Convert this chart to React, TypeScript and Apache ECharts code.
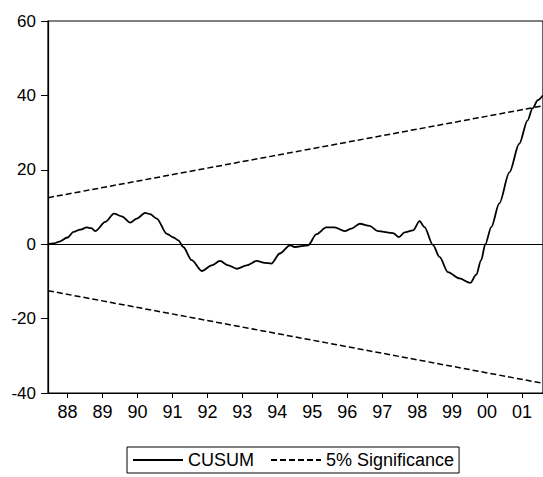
import React, { useEffect, useRef } from "react";
import * as echarts from "echarts";

// Recursive-residual CUSUM statistic, x as fractional year
const cusumYears = [
  1987.44, 1987.6, 1987.74, 1988.0, 1988.17, 1988.36, 1988.55, 1988.68, 1988.79,
  1989.08, 1989.33, 1989.55, 1989.79, 1989.98, 1990.22, 1990.36, 1990.55, 1990.84,
  1991.03, 1991.17, 1991.31, 1991.55, 1991.84, 1992.12, 1992.36, 1992.6, 1992.84,
  1993.12, 1993.41, 1993.64, 1993.83, 1994.07, 1994.36, 1994.5, 1994.88, 1995.12,
  1995.4, 1995.64, 1995.93, 1996.12, 1996.36, 1996.64, 1996.88, 1997.31, 1997.48,
  1997.64, 1997.88, 1998.07, 1998.21, 1998.45, 1998.64, 1998.88, 1999.21, 1999.52,
  1999.69, 1999.83, 1999.95, 2000.12, 2000.35, 2000.64, 2000.92, 2001.16, 2001.3,
  2001.45, 2001.6,
];
const cusumValues = [
  0, 0.2, 0.6, 1.8, 3.3, 3.9, 4.5, 4.3, 3.5,
  6.0, 8.2, 7.5, 5.8, 6.9, 8.4, 8.1, 6.9, 2.8,
  1.8, 1.05, -0.75, -4.3, -7.2, -5.7, -4.5, -5.7, -6.6,
  -5.7, -4.5, -5.0, -5.2, -2.5, -0.3, -0.75, -0.3, 2.7,
  4.5, 4.5, 3.5, 4.2, 5.5, 4.9, 3.5, 3.0, 1.9,
  3.2, 3.7, 6.2, 4.6, -0.2, -3.4, -7.5, -9.2, -10.4,
  -8.2, -4.3, 0, 4.6, 11.0, 19.3, 27.0, 33.3, 36.5,
  38.7, 40.0,
];

// 5% significance bounds (straight lines from first to last recursive residual)
const boundYears = [1987.44, 2001.6];
const upperBound = [12.5, 37.2];
const lowerBound = [-12.5, -37.4];

const yearTicks = [1988, 1989, 1990, 1991, 1992, 1993, 1994, 1995, 1996, 1997, 1998, 1999, 2000, 2001];
const yMin = -40;
const yMax = 60;
const yStep = 20;

const FONT = "'Liberation Sans', Arial, Helvetica, sans-serif";

export default function App() {
  const ref = useRef<HTMLDivElement>(null);

  useEffect(() => {
    if (!ref.current) return;
    const chart = echarts.init(ref.current, undefined, { renderer: "svg" });

    const pair = (xs: number[], ys: number[]) => xs.map((x, i) => [x, ys[i]]);
    const dashStyle = { color: "#000", width: 1.5, type: [6, 3] as number[] };

    chart.setOption({
      animation: false,
      backgroundColor: "#fff",
      grid: {
        left: 48,
        top: 21,
        right: -4,
        bottom: 84,
        show: true,
        borderColor: "#000",
        borderWidth: 1.2,
        backgroundColor: "transparent",
      },
      xAxis: {
        type: "value",
        min: 1987.44,
        max: 2001.6,
        splitLine: { show: false },
        axisLine: { show: true, onZero: false, lineStyle: { color: "#000", width: 1.2 } },
        axisTick: {
          show: true,
          inside: false,
          length: 5,
          customValues: yearTicks,
          lineStyle: { color: "#000", width: 1 },
        },
        axisLabel: {
          customValues: yearTicks,
          margin: 10,
          color: "#000",
          fontSize: 18,
          fontFamily: FONT,
          formatter: (v: number) => String(Math.round(v)).slice(2),
        },
      },
      yAxis: {
        type: "value",
        min: yMin,
        max: yMax,
        interval: yStep,
        splitLine: { show: false },
        axisLine: { show: true, onZero: false, lineStyle: { color: "#000", width: 1.2 } },
        axisTick: { show: true, inside: false, length: 7, lineStyle: { color: "#000", width: 1 } },
        axisLabel: {
          margin: 12,
          color: "#000",
          fontSize: 17,
          fontFamily: FONT,
        },
      },
      legend: {
        left: 127,
        top: 447,
        padding: [4, 5],
        borderColor: "#000",
        borderWidth: 1,
        borderRadius: 0,
        itemWidth: 50,
        itemHeight: 10,
        itemGap: 16,
        selectedMode: false,
        itemStyle: { opacity: 0 },
        textStyle: { color: "#000", fontSize: 18, fontFamily: FONT },
        data: ["CUSUM", "5% Significance"],
      },
      series: [
        {
          name: "CUSUM",
          type: "line",
          data: pair(cusumYears, cusumValues),
          symbol: "none",
          smooth: 0.3,
          smoothMonotone: "x",
          lineStyle: { color: "#000", width: 1.8 },
          itemStyle: { color: "#000" },
          markLine: {
            silent: true,
            symbol: "none",
            label: { show: false },
            lineStyle: { color: "#000", width: 1.2, type: "solid" },
            data: [{ yAxis: 0 }],
          },
        },
        {
          name: "5% Significance",
          type: "line",
          data: pair(boundYears, upperBound),
          symbol: "none",
          lineStyle: dashStyle,
          itemStyle: { color: "#000" },
        },
        {
          name: "5% Significance",
          type: "line",
          data: pair(boundYears, lowerBound),
          symbol: "none",
          lineStyle: dashStyle,
          itemStyle: { color: "#000" },
        },
      ],
    });

    return () => chart.dispose();
  }, []);

  return (
    <div
      ref={ref}
      style={{ position: "absolute", left: 0, top: 0, width: 543, height: 477, background: "#fff" }}
    />
  );
}
